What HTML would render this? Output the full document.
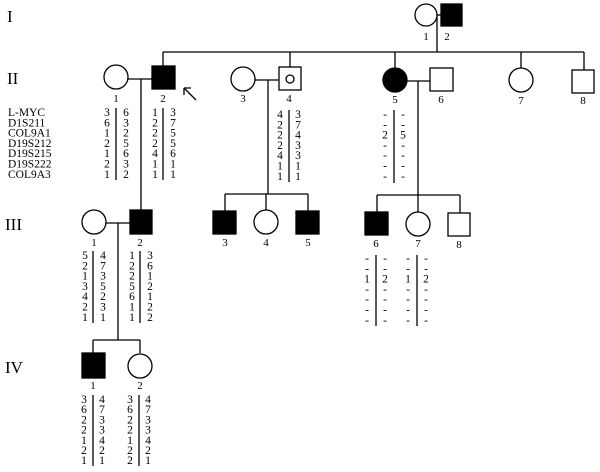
<!DOCTYPE html>
<html><head><style>html,body{margin:0;padding:0;background:#fff}svg{display:block}text{font-family:"Liberation Serif",serif;fill:#000}</style></head>
<body>
<svg width="600" height="472" viewBox="0 0 600 472" xmlns="http://www.w3.org/2000/svg" stroke="#000" stroke-width="1.3" fill="none">
<g stroke="none" font-size="17">
<text x="7" y="22">I</text><text x="7" y="84">II</text><text x="5" y="230">III</text><text x="5" y="373">IV</text>
</g>
<!-- Gen I -->
<circle cx="426" cy="15" r="11" fill="#fff"/>
<rect x="441" y="4" width="21" height="22" fill="#000"/>
<line x1="437" y1="15" x2="441" y2="15"/>
<line x1="437" y1="15" x2="437" y2="52"/>
<line x1="163" y1="52" x2="584" y2="52"/>
<line x1="163" y1="52" x2="163" y2="66"/>
<line x1="290" y1="52" x2="290" y2="67"/>
<line x1="395" y1="52" x2="395" y2="68"/>
<line x1="521" y1="52" x2="521" y2="68"/>
<line x1="584" y1="52" x2="584" y2="70"/>
<!-- Gen II -->
<circle cx="116" cy="77" r="12" fill="#fff"/>
<rect x="152" y="66" width="23" height="23" fill="#000"/>
<line x1="128" y1="79" x2="152" y2="79"/>
<line x1="141" y1="79" x2="141" y2="210"/>
<line x1="196" y1="100" x2="184" y2="88"/>
<path d="M184 88 L184 95 M184 88 L191 88"/>
<circle cx="243" cy="79" r="12" fill="#fff"/>
<rect x="279" y="67" width="22" height="23" fill="#fff"/>
<circle cx="290" cy="79" r="4"/>
<line x1="255" y1="80" x2="279" y2="80"/>
<line x1="268" y1="80" x2="268" y2="194"/>
<line x1="225" y1="194" x2="308" y2="194"/>
<line x1="225" y1="194" x2="225" y2="211"/>
<line x1="266" y1="194" x2="266" y2="210"/>
<line x1="308" y1="194" x2="308" y2="211"/>
<circle cx="395" cy="80" r="12" fill="#000"/>
<rect x="430" y="68" width="23" height="23" fill="#fff"/>
<line x1="407" y1="81" x2="430" y2="81"/>
<line x1="418" y1="81" x2="418" y2="195"/>
<line x1="377" y1="195" x2="460" y2="195"/>
<line x1="377" y1="195" x2="377" y2="212"/>
<line x1="418" y1="195" x2="418" y2="212"/>
<line x1="460" y1="195" x2="460" y2="213"/>
<circle cx="521" cy="80" r="12" fill="#fff"/>
<rect x="572" y="70" width="22" height="23" fill="#fff"/>
<!-- Gen III -->
<circle cx="94" cy="222" r="12" fill="#fff"/>
<rect x="130" y="210" width="22" height="24" fill="#000"/>
<line x1="106" y1="223" x2="130" y2="223"/>
<line x1="118" y1="223" x2="118" y2="340"/>
<line x1="93" y1="340" x2="140" y2="340"/>
<line x1="93" y1="340" x2="93" y2="353"/>
<line x1="140" y1="340" x2="140" y2="353"/>
<rect x="213" y="211" width="23" height="23" fill="#000"/>
<circle cx="266" cy="222" r="12" fill="#fff"/>
<rect x="296" y="211" width="23" height="23" fill="#000"/>
<rect x="365" y="212" width="23" height="23" fill="#000"/>
<circle cx="418" cy="224" r="12" fill="#fff"/>
<rect x="448" y="213" width="22" height="23" fill="#fff"/>
<!-- Gen IV -->
<rect x="82" y="353" width="23" height="25" fill="#000"/>
<circle cx="140" cy="366" r="12" fill="#fff"/>
<!-- allele bars -->
<line x1="116" y1="108" x2="116" y2="180"/><line x1="163" y1="108" x2="163" y2="180"/>
<line x1="289" y1="110" x2="289" y2="182"/><line x1="394" y1="110" x2="394" y2="183"/>
<line x1="93" y1="251" x2="93" y2="323"/><line x1="140" y1="251" x2="140" y2="323"/>
<line x1="376" y1="255" x2="376" y2="326"/><line x1="417" y1="255" x2="417" y2="326"/>
<line x1="93" y1="395" x2="93" y2="466"/><line x1="139" y1="395" x2="139" y2="466"/>
<g stroke="none" font-size="11" text-anchor="middle">
<text x="426" y="40">1</text><text x="447" y="40">2</text>
<text x="116" y="102">1</text><text x="163" y="102">2</text><text x="243" y="102">3</text><text x="289" y="102">4</text><text x="395" y="103">5</text><text x="441" y="103">6</text><text x="521" y="104">7</text><text x="583" y="104">8</text>
<text x="94" y="246">1</text><text x="140" y="246">2</text><text x="225" y="246">3</text><text x="266" y="246">4</text><text x="308" y="246">5</text><text x="376" y="247">6</text><text x="418" y="247">7</text><text x="459" y="248">8</text>
<text x="93" y="389">1</text><text x="140" y="389">2</text>
</g>
<g stroke="none" font-size="11.5">
<text x="8" y="116">L-MYC</text><text x="8" y="126.3">D1S211</text><text x="8" y="136.6">COL9A1</text><text x="8" y="146.9">D19S212</text><text x="8" y="157.2">D19S215</text><text x="8" y="167.5">D19S222</text><text x="8" y="177.8">COL9A3</text>
</g>
<g stroke="none" font-size="11.5" text-anchor="middle">
<text x="107" y="116">3</text><text x="107" y="126.3">6</text><text x="107" y="136.6">1</text><text x="107" y="146.9">2</text><text x="107" y="157.2">1</text><text x="107" y="167.5">2</text><text x="107" y="177.8">1</text>
<text x="126" y="116">6</text><text x="126" y="126.3">3</text><text x="126" y="136.6">2</text><text x="126" y="146.9">5</text><text x="126" y="157.2">6</text><text x="126" y="167.5">3</text><text x="126" y="177.8">2</text>
<text x="155" y="116">1</text><text x="155" y="126.3">2</text><text x="155" y="136.6">2</text><text x="155" y="146.9">2</text><text x="155" y="157.2">4</text><text x="155" y="167.5">1</text><text x="155" y="177.8">1</text>
<text x="173" y="116">3</text><text x="173" y="126.3">7</text><text x="173" y="136.6">5</text><text x="173" y="146.9">5</text><text x="173" y="157.2">6</text><text x="173" y="167.5">1</text><text x="173" y="177.8">1</text>
<text x="280" y="118">4</text><text x="280" y="128.3">2</text><text x="280" y="138.6">2</text><text x="280" y="148.9">2</text><text x="280" y="159.2">4</text><text x="280" y="169.5">1</text><text x="280" y="179.8">1</text>
<text x="298" y="118">3</text><text x="298" y="128.3">7</text><text x="298" y="138.6">4</text><text x="298" y="148.9">3</text><text x="298" y="159.2">3</text><text x="298" y="169.5">1</text><text x="298" y="179.8">1</text>
<text x="385" y="118">-</text><text x="385" y="128.3">-</text><text x="385" y="138.6">2</text><text x="385" y="148.9">-</text><text x="385" y="159.2">-</text><text x="385" y="169.5">-</text><text x="385" y="179.8">-</text>
<text x="403" y="118">-</text><text x="403" y="128.3">-</text><text x="403" y="138.6">5</text><text x="403" y="148.9">-</text><text x="403" y="159.2">-</text><text x="403" y="169.5">-</text><text x="403" y="179.8">-</text>
<text x="85" y="259">5</text><text x="85" y="269.3">2</text><text x="85" y="279.6">1</text><text x="85" y="289.9">3</text><text x="85" y="300.2">4</text><text x="85" y="310.5">2</text><text x="85" y="320.8">1</text>
<text x="103" y="259">4</text><text x="103" y="269.3">7</text><text x="103" y="279.6">3</text><text x="103" y="289.9">5</text><text x="103" y="300.2">2</text><text x="103" y="310.5">3</text><text x="103" y="320.8">1</text>
<text x="132" y="259">1</text><text x="132" y="269.3">2</text><text x="132" y="279.6">2</text><text x="132" y="289.9">5</text><text x="132" y="300.2">6</text><text x="132" y="310.5">1</text><text x="132" y="320.8">1</text>
<text x="150" y="259">3</text><text x="150" y="269.3">6</text><text x="150" y="279.6">1</text><text x="150" y="289.9">2</text><text x="150" y="300.2">1</text><text x="150" y="310.5">2</text><text x="150" y="320.8">2</text>
<text x="367" y="262">-</text><text x="367" y="272.3">-</text><text x="367" y="282.6">1</text><text x="367" y="292.9">-</text><text x="367" y="303.2">-</text><text x="367" y="313.5">-</text><text x="367" y="323.8">-</text>
<text x="385" y="262">-</text><text x="385" y="272.3">-</text><text x="385" y="282.6">2</text><text x="385" y="292.9">-</text><text x="385" y="303.2">-</text><text x="385" y="313.5">-</text><text x="385" y="323.8">-</text>
<text x="408" y="262">-</text><text x="408" y="272.3">-</text><text x="408" y="282.6">1</text><text x="408" y="292.9">-</text><text x="408" y="303.2">-</text><text x="408" y="313.5">-</text><text x="408" y="323.8">-</text>
<text x="426" y="262">-</text><text x="426" y="272.3">-</text><text x="426" y="282.6">2</text><text x="426" y="292.9">-</text><text x="426" y="303.2">-</text><text x="426" y="313.5">-</text><text x="426" y="323.8">-</text>
<text x="84" y="403">3</text><text x="84" y="413.2">6</text><text x="84" y="423.4">2</text><text x="84" y="433.6">2</text><text x="84" y="443.8">1</text><text x="84" y="454">2</text><text x="84" y="464.2">1</text>
<text x="102" y="403">4</text><text x="102" y="413.2">7</text><text x="102" y="423.4">3</text><text x="102" y="433.6">3</text><text x="102" y="443.8">4</text><text x="102" y="454">2</text><text x="102" y="464.2">1</text>
<text x="130" y="403">3</text><text x="130" y="413.2">6</text><text x="130" y="423.4">2</text><text x="130" y="433.6">2</text><text x="130" y="443.8">1</text><text x="130" y="454">2</text><text x="130" y="464.2">2</text>
<text x="148" y="403">4</text><text x="148" y="413.2">7</text><text x="148" y="423.4">3</text><text x="148" y="433.6">3</text><text x="148" y="443.8">4</text><text x="148" y="454">2</text><text x="148" y="464.2">1</text>
</g>
</svg>
</body></html>
